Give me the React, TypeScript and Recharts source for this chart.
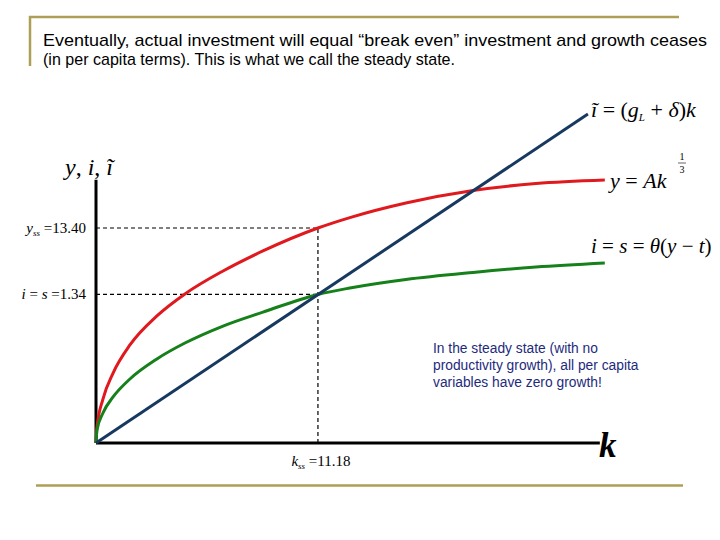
import React from "react";
import { LineChart, Line, XAxis, YAxis, ReferenceLine } from "recharts";

// capital per worker (k_ss = 11.18 sits at the dashed line)
const kGrid = [0, 0.05, 0.35, 0.86, 1.71, 3.07, 4.48, 6.4, 8.41, 11.18, 12.79, 15.61, 18.99, 22.16, 25.63];
// y = A k^(1/3) as drawn
const outputY = [0, 1.0, 2.74, 4.36, 6.11, 7.92, 9.29, 10.72, 11.97, 13.4, 14.05, 14.96, 15.74, 16.17, 16.39];
// i = s = theta(y - t) as drawn
const savingI = [0, 0.81, 1.87, 2.87, 3.99, 5.24, 6.23, 7.29, 8.16, 9.26, 9.66, 10.19, 10.63, 10.97, 11.22];
// break even investment line
const breakEvenK = [0, 24.78];
const breakEvenI = [0, 20.5];

const kSteady = 11.18;
const ySteady = 13.4;
const iSteady = 9.26;
const yTicks = [iSteady, ySteady];
const yTickValues = ["1.34", "13.40"];
const xTickValues = ["11.18"];

const axisTop = 16.4;
const axisRight = 25.38;

const curveData = kGrid.map((k, i) => ({ k, y: outputY[i], s: savingI[i] }));
const breakEvenData = breakEvenK.map((k, i) => ({ k, b: breakEvenI[i] }));

const SERIF = "'Liberation Serif', 'Times New Roman', serif";
const SANS = "'Liberation Sans', Arial, sans-serif";
const GOLD = "#ad9f55";

const YTick = (props: any) => {
  const { x, y, index } = props;
  const val = yTickValues[index];
  if (index === 1) {
    return (
      <text x={x - 2} y={y + 5} textAnchor="end" fontFamily={SERIF} fontSize={15} fill="#000">
        <tspan fontStyle="italic">y</tspan>
        <tspan fontStyle="italic" fontSize={9} dy={3}>ss</tspan>
        <tspan dy={-3}> ={val}</tspan>
      </text>
    );
  }
  return (
    <text x={x - 2} y={y + 5} textAnchor="end" fontFamily={SERIF} fontSize={15} fill="#000">
      <tspan fontStyle="italic">i</tspan>
      <tspan> = </tspan>
      <tspan fontStyle="italic">s</tspan>
      <tspan> ={val}</tspan>
    </text>
  );
};

const XTick = (props: any) => {
  const { x, y, index } = props;
  return (
    <text x={x + 3} y={y + 15} textAnchor="middle" fontFamily={SERIF} fontSize={15} fill="#000">
      <tspan fontStyle="italic">k</tspan>
      <tspan fontStyle="italic" fontSize={9} dy={3}>ss</tspan>
      <tspan dy={-3}> ={xTickValues[index]}</tspan>
    </text>
  );
};

export default function App() {
  return (
    <div style={{ position: "absolute", left: 0, top: 0, width: 720, height: 540, background: "#fff" }}>
      <LineChart
        width={720}
        height={540}
        data={curveData}
        margin={{ top: 90, right: 88, left: 0, bottom: 0 }}
      >
        <XAxis
          dataKey="k"
          type="number"
          domain={[0, 27]}
          ticks={[kSteady]}
          tick={<XTick />}
          axisLine={false}
          tickLine={false}
          height={97}
        />
        <YAxis
          type="number"
          domain={[0, 22]}
          ticks={yTicks}
          tick={<YTick />}
          axisLine={false}
          tickLine={false}
          tickSize={6}
          tickMargin={2}
          width={96}
        />
        <ReferenceLine segment={[{ x: 0, y: ySteady }, { x: kSteady, y: ySteady }]} stroke="#000" strokeWidth={1.2} strokeDasharray="4 3" />
        <ReferenceLine segment={[{ x: 0, y: iSteady }, { x: kSteady, y: iSteady }]} stroke="#000" strokeWidth={1.2} strokeDasharray="4 3" />
        <ReferenceLine segment={[{ x: kSteady, y: 0 }, { x: kSteady, y: ySteady }]} stroke="#000" strokeWidth={1.2} strokeDasharray="4 3" />
        <ReferenceLine segment={[{ x: 0, y: 0 }, { x: axisRight, y: 0 }]} stroke="#000" strokeWidth={3} />
        <ReferenceLine segment={[{ x: 0, y: 0 }, { x: 0, y: axisTop }]} stroke="#000" strokeWidth={3} />
        <Line type="monotone" dataKey="y" stroke="#e0191f" strokeWidth={3} dot={false} isAnimationActive={false} />
        <Line type="monotone" dataKey="s" stroke="#16801a" strokeWidth={3} dot={false} isAnimationActive={false} />
        <Line data={breakEvenData} type="linear" dataKey="b" stroke="#17395f" strokeWidth={3} dot={false} isAnimationActive={false} />
      </LineChart>
      <svg width={720} height={540} style={{ position: "absolute", left: 0, top: 0, pointerEvents: "none" }}>
        {/* slide frame */}
        <line x1={29} y1={17} x2={679} y2={17} stroke={GOLD} strokeWidth={2.5} />
        <line x1={30} y1={16} x2={30} y2={66} stroke={GOLD} strokeWidth={2.5} />
        <line x1={36} y1={485.5} x2={683} y2={485.5} stroke={GOLD} strokeWidth={2.5} />
        <text x={43} y={46} fontFamily={SANS} fontSize={17} fill="#000" textLength={664} lengthAdjust="spacingAndGlyphs">
          Eventually, actual investment will equal “break even” investment and growth ceases
        </text>
        <text x={43} y={65} fontFamily={SANS} fontSize={17} fill="#000" textLength={412} lengthAdjust="spacingAndGlyphs">
          (in per capita terms).  This is what we call the steady state.
        </text>
        {/* axis names */}
        <text x={65} y={175} fontFamily={SERIF} fontStyle="italic" fontSize={24} fill="#000">
          y<tspan fontStyle="normal">, </tspan>i<tspan fontStyle="normal">, </tspan>ĩ
        </text>
        <text x={599} y={457} fontFamily={SERIF} fontStyle="italic" fontWeight="bold" fontSize={35} fill="#000">k</text>
        {/* curve equations */}
        <text x={591} y={117} fontFamily={SERIF} fontSize={22} fill="#000">
          <tspan fontStyle="italic">ĩ</tspan>
          <tspan> = (</tspan>
          <tspan fontStyle="italic">g</tspan>
          <tspan fontStyle="italic" fontSize={11} dy={4}>L</tspan>
          <tspan dy={-4}> + </tspan>
          <tspan fontStyle="italic">δ</tspan>
          <tspan>)</tspan>
          <tspan fontStyle="italic">k</tspan>
        </text>
        <text x={610} y={188} fontFamily={SERIF} fontSize={22} fill="#000">
          <tspan fontStyle="italic">y</tspan>
          <tspan> = </tspan>
          <tspan fontStyle="italic">Ak</tspan>
        </text>
        <text x={682} y={160} fontFamily={SERIF} fontSize={10} fill="#000" textAnchor="middle">1</text>
        <line x1={678} y1={163} x2={686} y2={163} stroke="#000" strokeWidth={0.6} />
        <text x={682} y={173} fontFamily={SERIF} fontSize={10} fill="#000" textAnchor="middle">3</text>
        <text x={591} y={253} fontFamily={SERIF} fontSize={21} fill="#000">
          <tspan fontStyle="italic">i</tspan>
          <tspan> = </tspan>
          <tspan fontStyle="italic">s</tspan>
          <tspan> = </tspan>
          <tspan fontStyle="italic">θ</tspan>
          <tspan>(</tspan>
          <tspan fontStyle="italic">y</tspan>
          <tspan> − </tspan>
          <tspan fontStyle="italic">t</tspan>
          <tspan>)</tspan>
        </text>
        {/* callout */}
        <g fontFamily={SANS} fontSize={13.8} fill="#1e2b7c">
          <text x={433} y={353}>In the steady state (with no</text>
          <text x={433} y={370}>productivity growth), all per capita</text>
          <text x={433} y={387}>variables have zero growth!</text>
        </g>
      </svg>
    </div>
  );
}
